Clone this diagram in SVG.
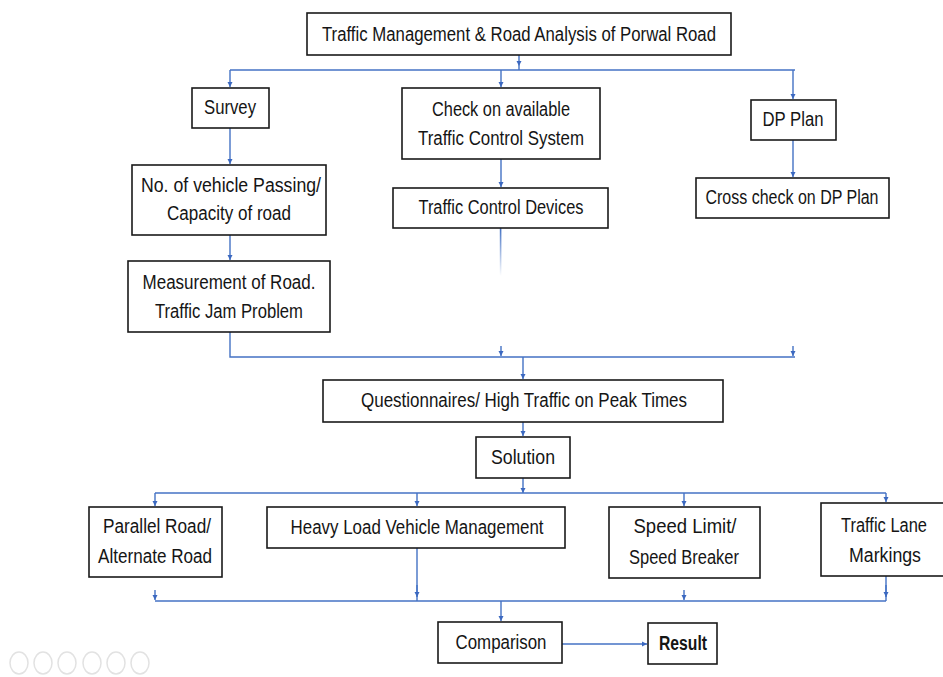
<svg xmlns="http://www.w3.org/2000/svg" width="943" height="677" viewBox="0 0 943 677">
<style>
.box{fill:#fff;stroke:#1a1a1a;stroke-width:1.6}
.t{font-family:"Liberation Sans Narrow","Liberation Sans",Arial,sans-serif;font-size:19.5px;fill:#151515;text-anchor:middle}
.c{fill:none;stroke:#4472C4;stroke-width:1.4}
.ui{fill:none;stroke:#e2e2e2;stroke-width:1.5}
</style>
<defs>
<marker id="ah" viewBox="0 0 10 10" refX="10" refY="5" markerWidth="5.5" markerHeight="5.5" orient="auto" markerUnits="userSpaceOnUse">
<path d="M0,0 L10,5 L0,10 z" fill="#3b68c0"/>
</marker>
<linearGradient id="fade" x1="0" y1="0" x2="0" y2="1">
<stop offset="0" stop-color="#4472C4" stop-opacity="1"/>
<stop offset="1" stop-color="#4472C4" stop-opacity="0"/>
</linearGradient>
</defs>
<rect width="943" height="677" fill="#fff"/>

<g id="connectors">
<path class="c" d="M519,55 V66" marker-end="url(#ah)"/>
<path class="c" d="M519,66 V70"/>
<path class="c" d="M230,70 H795"/>
<path class="c" d="M230,70 V87" marker-end="url(#ah)"/>
<path class="c" d="M501,70 V87" marker-end="url(#ah)"/>
<path class="c" d="M793,70 V99" marker-end="url(#ah)"/>
<path class="c" d="M793,140 V177" marker-end="url(#ah)"/>
<path class="c" d="M230,128 V164" marker-end="url(#ah)"/>
<path class="c" d="M230,235 V260" marker-end="url(#ah)"/>
<path class="c" d="M501,159 V187" marker-end="url(#ah)"/>
<rect x="499.8" y="228" width="1.6" height="48" fill="url(#fade)"/>
<path class="c" d="M230,332 V357 H795"/>
<path class="c" d="M501,346 V356" marker-end="url(#ah)"/>
<path class="c" d="M793,346 V356" marker-end="url(#ah)"/>
<path class="c" d="M523,357 V379" marker-end="url(#ah)"/>
<path class="c" d="M523,422 V436" marker-end="url(#ah)"/>
<path class="c" d="M523,478 V493" marker-end="url(#ah)"/>
<path class="c" d="M155,493 H886"/>
<path class="c" d="M155,493 V506" marker-end="url(#ah)"/>
<path class="c" d="M417,493 V506" marker-end="url(#ah)"/>
<path class="c" d="M684,493 V506" marker-end="url(#ah)"/>
<path class="c" d="M886,493 V502" marker-end="url(#ah)"/>
<path class="c" d="M155,601 H886"/>
<path class="c" d="M155,590 V600" marker-end="url(#ah)"/>
<path class="c" d="M684,590 V600" marker-end="url(#ah)"/>
<path class="c" d="M417,548 V601"/>
<path class="c" d="M417,585 V597" marker-end="url(#ah)"/>
<path class="c" d="M886,576 V601"/>
<path class="c" d="M886,585 V597" marker-end="url(#ah)"/>
<path class="c" d="M501,601 V621" marker-end="url(#ah)"/>
<path class="c" d="M562,644 H647" marker-end="url(#ah)"/>
</g>

<g id="title">
<rect class="box" x="307" y="13" width="424" height="42"/>
<text class="t" x="519" y="41" textLength="394" lengthAdjust="spacingAndGlyphs">Traffic Management &amp; Road Analysis of Porwal Road</text>
</g>
<g id="survey">
<rect class="box" x="192" y="88" width="77" height="40"/>
<text class="t" x="230" y="114" textLength="52" lengthAdjust="spacingAndGlyphs">Survey</text>
</g>
<g id="check">
<rect class="box" x="402" y="88" width="198" height="71"/>
<text class="t" x="501" y="116" textLength="138" lengthAdjust="spacingAndGlyphs">Check on available</text>
<text class="t" x="501" y="145" textLength="166" lengthAdjust="spacingAndGlyphs">Traffic Control System</text>
</g>
<g id="dpplan">
<rect class="box" x="751" y="100" width="85" height="40"/>
<text class="t" x="793" y="126" textLength="61" lengthAdjust="spacingAndGlyphs">DP Plan</text>
</g>
<g id="crosscheck">
<rect class="box" x="696" y="178" width="193" height="40"/>
<text class="t" x="792" y="204" textLength="173" lengthAdjust="spacingAndGlyphs">Cross check on DP Plan</text>
</g>
<g id="vehicles">
<rect class="box" x="132" y="165" width="194" height="70"/>
<text class="t" x="231" y="192" textLength="180" lengthAdjust="spacingAndGlyphs">No. of vehicle Passing/</text>
<text class="t" x="229" y="220" textLength="124" lengthAdjust="spacingAndGlyphs">Capacity of road</text>
</g>
<g id="devices">
<rect class="box" x="393" y="188" width="215" height="40"/>
<text class="t" x="501" y="214" textLength="165" lengthAdjust="spacingAndGlyphs">Traffic Control Devices</text>
</g>
<g id="measurement">
<rect class="box" x="128" y="261" width="202" height="71"/>
<text class="t" x="229" y="289" textLength="173" lengthAdjust="spacingAndGlyphs">Measurement of Road.</text>
<text class="t" x="229" y="318" textLength="148" lengthAdjust="spacingAndGlyphs">Traffic Jam Problem</text>
</g>
<g id="questionnaires">
<rect class="box" x="323" y="380" width="400" height="42"/>
<text class="t" x="524" y="407" textLength="326" lengthAdjust="spacingAndGlyphs">Questionnaires/ High Traffic on Peak Times</text>
</g>
<g id="solution">
<rect class="box" x="476" y="437" width="94" height="41"/>
<text class="t" x="523" y="464" textLength="64" lengthAdjust="spacingAndGlyphs">Solution</text>
</g>
<g id="parallel">
<rect class="box" x="89" y="507" width="133" height="70"/>
<text class="t" x="157" y="533" textLength="108" lengthAdjust="spacingAndGlyphs">Parallel Road/</text>
<text class="t" x="155" y="563" textLength="114" lengthAdjust="spacingAndGlyphs">Alternate Road</text>
</g>
<g id="heavy">
<rect class="box" x="267" y="507" width="298" height="41"/>
<text class="t" x="417" y="534" textLength="253" lengthAdjust="spacingAndGlyphs">Heavy Load Vehicle Management</text>
</g>
<g id="speed">
<rect class="box" x="609" y="507" width="151" height="71"/>
<text class="t" x="685" y="533" textLength="103" lengthAdjust="spacingAndGlyphs">Speed Limit/</text>
<text class="t" x="684" y="564" textLength="110" lengthAdjust="spacingAndGlyphs">Speed Breaker</text>
</g>
<g id="lane">
<rect class="box" x="821" y="503" width="124" height="73"/>
<text class="t" x="884" y="532" textLength="86" lengthAdjust="spacingAndGlyphs">Traffic Lane</text>
<text class="t" x="885" y="562" textLength="72" lengthAdjust="spacingAndGlyphs">Markings</text>
</g>
<g id="comparison">
<rect class="box" x="438" y="622" width="124" height="41"/>
<text class="t" x="501" y="649" textLength="91" lengthAdjust="spacingAndGlyphs">Comparison</text>
</g>
<g id="result">
<rect class="box" x="648" y="623" width="69" height="41"/>
<text class="t" x="683" y="650" font-weight="bold" textLength="48" lengthAdjust="spacingAndGlyphs">Result</text>
</g>

<g id="toolbar">
<ellipse class="ui" cx="19" cy="663" rx="9" ry="11"/>
<ellipse class="ui" cx="43" cy="663" rx="9" ry="11"/>
<ellipse class="ui" cx="67" cy="663" rx="9" ry="11"/>
<ellipse class="ui" cx="92" cy="663" rx="9" ry="11"/>
<ellipse class="ui" cx="116" cy="663" rx="9" ry="11"/>
<ellipse class="ui" cx="140" cy="663" rx="9" ry="11"/>
</g>
</svg>
